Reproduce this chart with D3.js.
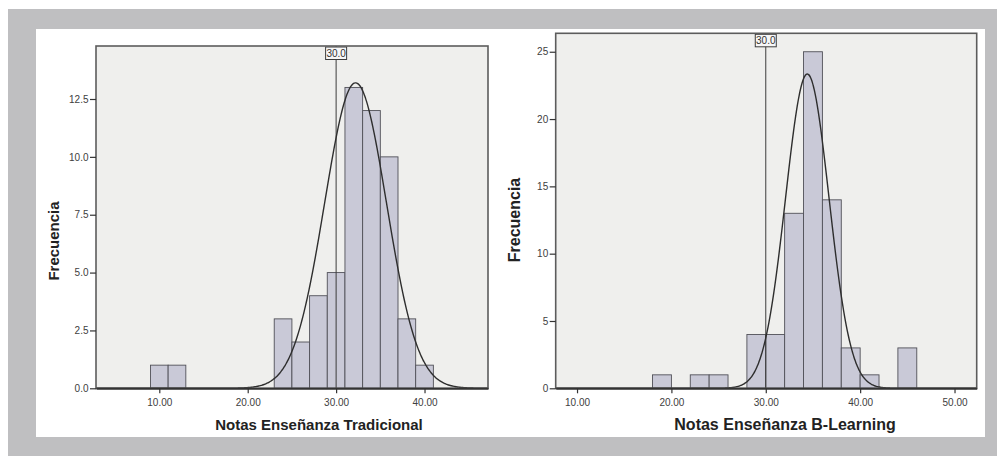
<!DOCTYPE html>
<html>
<head>
<meta charset="utf-8">
<script src="https://cdn.jsdelivr.net/npm/d3@7"></script>
<style>
  html, body { margin: 0; padding: 0; background: #ffffff; }
  svg { display: block; }
</style>
</head>
<body>
<div id="chart"></div>
<script>
// --- data ---
const BIN_WIDTH = 2;

const tradBinStarts = [9, 11, 23, 25, 27, 29, 31, 33, 35, 37, 39];
const tradCounts = [1, 1, 3, 2, 4, 5, 13, 12, 10, 3, 1];
const tradXTicks = [10, 20, 30, 40];
const tradYTicks = [0, 2.5, 5, 7.5, 10, 12.5];
const tradCurve = { mean: 32.2, sd: 3.5, peak: 13.2 };

const blBinStarts = [18, 22, 24, 28, 30, 32, 34, 36, 38, 40, 44];
const blCounts = [1, 1, 1, 4, 4, 13, 25, 14, 3, 1, 3];
const blXTicks = [10, 20, 30, 40, 50];
const blYTicks = [0, 5, 10, 15, 20, 25];
const blCurve = { mean: 34.4, sd: 2.3, peak: 23.35 };

const refValue = 30;
const refLabel = "30.0";
const yTitle = "Frecuencia";

const WIDTH = 997;
const HEIGHT = 456;
const PAGE_GRAY = "#bfbfc1";
const PLOT_BG = "#efefed";
const BAR_FILL = "#c9c9d7";
const BAR_STROKE = "#505058";
const FRAME = "#5c5c5c";
const TICK_TEXT = "#404040";

const svg = d3.select("#chart")
  .append("svg")
  .attr("width", WIDTH)
  .attr("height", HEIGHT)
  .attr("viewBox", [0, 0, WIDTH, HEIGHT]);

// page frame: white strip, gray border, white card
svg.append("rect").attr("width", WIDTH).attr("height", HEIGHT).attr("fill", "#ffffff");
svg.append("rect").attr("x", 8).attr("y", 9).attr("width", WIDTH - 8).attr("height", HEIGHT - 9).attr("fill", PAGE_GRAY);
svg.append("rect").attr("x", 36).attr("y", 29).attr("width", 949).attr("height", 408).attr("fill", "#ffffff");

function drawHistogram(cfg) {
  const x = d3.scaleLinear().domain(cfg.xDomain).range([cfg.left, cfg.right]);
  const y = d3.scaleLinear().domain(cfg.yDomain).range([cfg.bottom, cfg.top]);
  const g = svg.append("g");
  const clipId = `clip-${cfg.id}`;

  g.append("clipPath").attr("id", clipId)
    .append("rect")
    .attr("x", cfg.left).attr("y", cfg.top)
    .attr("width", cfg.right - cfg.left).attr("height", cfg.bottom - cfg.top);

  g.append("rect")
    .attr("x", cfg.left).attr("y", cfg.top)
    .attr("width", cfg.right - cfg.left).attr("height", cfg.bottom - cfg.top)
    .attr("fill", PLOT_BG);

  const bins = cfg.starts.map((s, i) => ({ x0: s, x1: s + BIN_WIDTH, n: cfg.counts[i] }));

  g.append("g")
    .selectAll("rect")
    .data(bins)
    .join("rect")
    .attr("x", (d) => x(d.x0))
    .attr("y", (d) => y(d.n))
    .attr("width", (d) => x(d.x1) - x(d.x0))
    .attr("height", (d) => y(0) - y(d.n))
    .attr("fill", BAR_FILL)
    .attr("stroke", BAR_STROKE)
    .attr("stroke-width", 0.9);

  // reference line
  g.append("line")
    .attr("x1", x(refValue)).attr("x2", x(refValue))
    .attr("y1", cfg.top).attr("y2", cfg.bottom)
    .attr("stroke", "#3c3c3c")
    .attr("stroke-width", 1);

  // fitted normal curve
  const c = cfg.curve;
  const xs = d3.range(cfg.xDomain[0], cfg.xDomain[1], 0.1);
  const line = d3.line()
    .x((v) => x(v))
    .y((v) => y(c.peak * Math.exp(-((v - c.mean) ** 2) / (2 * c.sd * c.sd))))
    .curve(d3.curveBasis);
  g.append("path")
    .datum(xs)
    .attr("clip-path", `url(#${clipId})`)
    .attr("d", line)
    .attr("fill", "none")
    .attr("stroke", "#2e2e2e")
    .attr("stroke-width", 1.4);

  // reference label box
  const bw = 21, bh = 12.5;
  g.append("rect")
    .attr("x", x(refValue) - bw / 2).attr("y", cfg.top + 1)
    .attr("width", bw).attr("height", bh)
    .attr("fill", "#f7f7f7")
    .attr("stroke", "#3c3c3c")
    .attr("stroke-width", 1);
  g.append("text")
    .attr("x", x(refValue)).attr("y", cfg.top + 11)
    .attr("text-anchor", "middle")
    .attr("font-family", "Liberation Sans, Arial, sans-serif")
    .attr("font-size", 10)
    .attr("fill", "#333")
    .text(refLabel);

  // frame
  g.append("rect")
    .attr("x", cfg.left).attr("y", cfg.top)
    .attr("width", cfg.right - cfg.left).attr("height", cfg.bottom - cfg.top)
    .attr("fill", "none")
    .attr("stroke", FRAME)
    .attr("stroke-width", 1.6);

  // axes
  const yAxis = g.append("g")
    .attr("transform", `translate(${cfg.left},0)`)
    .call(d3.axisLeft(y).tickValues(cfg.yTicks).tickFormat(d3.format(cfg.yFormat))
      .tickSize(6).tickSizeOuter(0).tickPadding(1.5));
  yAxis.select(".domain").remove();

  const xAxis = g.append("g")
    .attr("transform", `translate(0,${cfg.bottom})`)
    .call(d3.axisBottom(x).tickValues(cfg.xTicks).tickFormat(d3.format(".2f"))
      .tickSize(5).tickSizeOuter(0).tickPadding(5.5));
  xAxis.select(".domain").attr("stroke", "#333").attr("stroke-width", 2);

  [yAxis, xAxis].forEach((a) => {
    a.selectAll(".tick line").attr("stroke", "#333").attr("stroke-width", 1.2);
    a.selectAll(".tick text")
      .attr("fill", TICK_TEXT)
      .attr("font-family", "Liberation Sans, Arial, sans-serif")
      .attr("font-size", 10);
  });

  // axis titles
  g.append("text")
    .attr("x", cfg.xTitleX).attr("y", 430)
    .attr("text-anchor", "middle")
    .attr("font-family", "Liberation Sans, Arial, sans-serif")
    .attr("font-weight", "bold")
    .attr("font-size", cfg.titleSize)
    .attr("fill", "#222")
    .text(cfg.xTitle);

  g.append("text")
    .attr("transform", `translate(${cfg.yTitleX},${cfg.yTitleY}) rotate(-90)`)
    .attr("text-anchor", "middle")
    .attr("font-family", "Liberation Sans, Arial, sans-serif")
    .attr("font-weight", "bold")
    .attr("font-size", cfg.titleSize)
    .attr("fill", "#222")
    .text(yTitle);
}

drawHistogram({
  id: "trad",
  starts: tradBinStarts,
  counts: tradCounts,
  curve: tradCurve,
  xTicks: tradXTicks,
  yTicks: tradYTicks,
  yFormat: ".1f",
  xDomain: [2.84, 47.18],
  yDomain: [0, 14.79],
  left: 96, right: 488, top: 46, bottom: 388.3,
  xTitle: "Notas Enseñanza Tradicional",
  xTitleX: 319,
  yTitleX: 58.5, yTitleY: 241,
  titleSize: 15
});

drawHistogram({
  id: "bl",
  starts: blBinStarts,
  counts: blCounts,
  curve: blCurve,
  xTicks: blXTicks,
  yTicks: blYTicks,
  yFormat: "d",
  xDomain: [7.74, 52.35],
  yDomain: [0, 26.37],
  left: 555.7, right: 976.7, top: 33.3, bottom: 388.3,
  xTitle: "Notas Enseñanza B-Learning",
  xTitleX: 785,
  yTitleX: 519.5, yTitleY: 220,
  titleSize: 16
});
</script>
</body>
</html>
